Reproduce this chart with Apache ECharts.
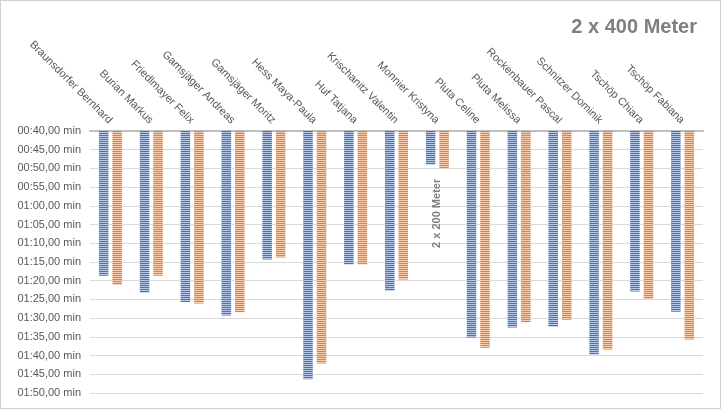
<!DOCTYPE html>
<html>
<head>
<meta charset="utf-8">
<script src="https://cdn.jsdelivr.net/npm/echarts@6/dist/echarts.min.js"></script>
<style>
html,body{margin:0;padding:0;background:#fff;}
#c{width:721px;height:409px;box-sizing:border-box;border:1px solid #d0d0d0;}
</style>
</head>
<body>
<div id="c"></div>
<script>
// Data (times in seconds)
const categories = ['Braunsdorfer Bernhard','Burian Markus','Friedlmayer Felix','Gamsjäger Andreas','Gamsjäger Moritz','Hess Maya-Paula','Huf Tatjana','Krischanitz Valentin','Monnier Kristyna','Pluta Celine','Pluta Melissa','Rockenbauer Pascal','Schnitzer Dominik','Tschöp Chiara','Tschöp Fabiana'];
const run1 = [78.7, 83.2, 85.7, 89.3, 74.3, 106.3, 75.7, 82.7, 49.0, 95.2, 92.5, 92.3, 99.7, 82.9, 88.3];
const run2 = [81.1, 78.7, 86.1, 88.4, 73.8, 102.1, 75.7, 79.7, 49.9, 97.9, 91.1, 90.4, 98.4, 84.9, 95.7];
const axisMin = 40, axisMax = 110, axisStep = 5;
const titleText = '2 x 400 Meter';
const noteText = '2 x 200 Meter';
const noteCategory = 'Monnier Kristyna';
const noteValue = 62;

function stripe(dark, light) {
  const cv = document.createElement('canvas');
  cv.width = 4; cv.height = 2;
  const ctx = cv.getContext('2d');
  ctx.fillStyle = light; ctx.fillRect(0, 0, 4, 2);
  ctx.fillStyle = dark; ctx.fillRect(0, 0, 4, 1);
  return { image: cv, repeat: 'repeat' };
}
function fmt(v) {
  const m = Math.floor(v / 60), s = Math.round(v - m * 60);
  const p = n => (n < 10 ? '0' : '') + n;
  return p(m) + ':' + p(s) + ',00 min';
}

const chart = echarts.init(document.getElementById('c'));
const font = 'Liberation Sans';
chart.setOption({
  animation: false,
  title: {
    text: titleText, right: 18, top: 11,
    textStyle: { fontFamily: font, fontSize: 20, fontWeight: 'bold', color: '#7f7f7f' }
  },
  grid: { left: 89, right: 17, top: 130, bottom: 15, outerBoundsMode: 'none', containLabel: false },
  xAxis: {
    type: 'category', data: categories, position: 'top',
    axisLine: { lineStyle: { color: '#bfbfbf', width: 2 } },
    axisTick: { show: false },
    axisLabel: { rotate: 45, interval: 0, margin: 9, color: '#595959', fontFamily: font, fontSize: 11 }
  },
  yAxis: {
    type: 'value', inverse: true, min: axisMin, max: axisMax, interval: axisStep, startValue: axisMin,
    axisLine: { show: false }, axisTick: { show: false },
    splitLine: { lineStyle: { color: '#d9d9d9', width: 1 } },
    axisLabel: { formatter: fmt, color: '#595959', fontFamily: font, fontSize: 11, margin: 9 }
  },
  series: [
    { name: 'Lauf 1', type: 'bar', data: run1, barWidth: 9.5, barGap: '42%', clip: true,
      itemStyle: { color: stripe('#4472c4', '#b4c7e7') } },
    { name: 'Lauf 2', type: 'bar', data: run2, barWidth: 9.5, barGap: '42%', clip: true,
      itemStyle: { color: stripe('#ed7d31', '#f8cbad') } }
  ]
});
const pt = chart.convertToPixel({ gridIndex: 0 }, [noteCategory, noteValue]);
chart.setOption({
  graphic: [{
    type: 'text', x: pt[0], y: pt[1], rotation: Math.PI / 2,
    style: { text: noteText, fill: '#7f7f7f', font: 'bold 11px "Liberation Sans"', align: 'center', verticalAlign: 'middle' }
  }]
});
</script>
</body>
</html>
